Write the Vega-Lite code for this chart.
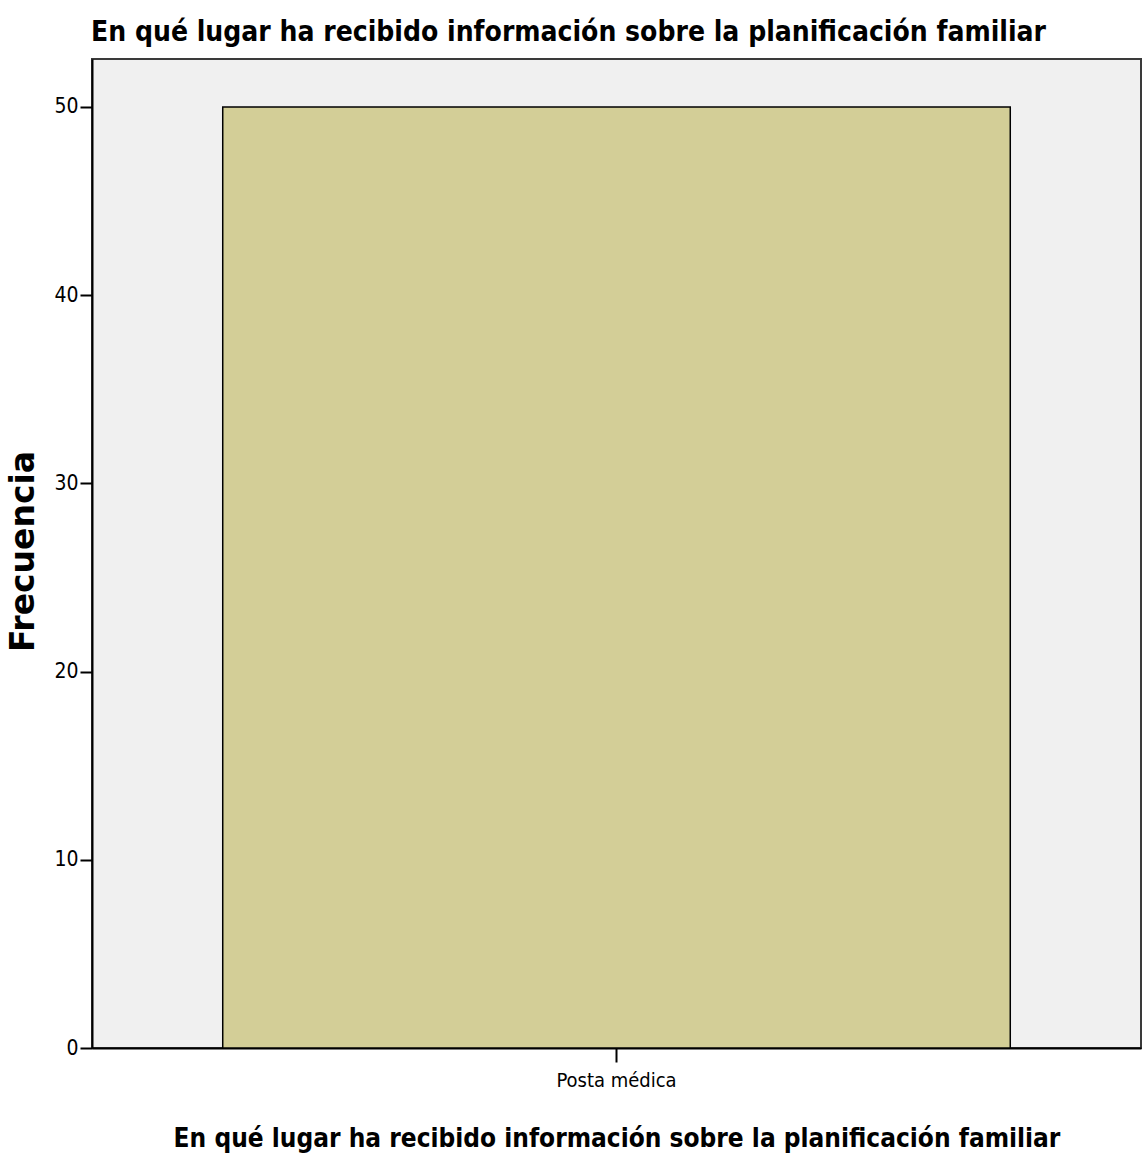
{
  "$schema": "https://vega.github.io/schema/vega-lite/v6.json",
  "autosize": {"type": "none"},
  "width": 1049,
  "height": 989,
  "padding": {"left": 92, "top": 59, "right": 4, "bottom": 116},
  "background": "white",
  "title": {
    "text": "En qué lugar ha recibido información sobre la planificación familiar",
    "font": "DejaVu Sans Condensed",
    "fontSize": 28,
    "fontWeight": "bold",
    "color": "black",
    "anchor": "middle",
    "baseline": "bottom",
    "offset": -16,
    "dx": -48
  },
  "data": {
    "values": [
      {"lugar": "Posta médica", "frecuencia": 50}
    ]
  },
  "mark": {"type": "bar", "color": "#d3ce97", "stroke": "black", "strokeWidth": 1.5},
  "encoding": {
    "x": {
      "field": "lugar",
      "type": "nominal",
      "title": "En qué lugar ha recibido información sobre la planificación familiar",
      "scale": {"paddingInner": 0, "paddingOuter": 0.166},
      "axis": {
        "labelAngle": 0,
        "labelFont": "DejaVu Sans Condensed",
        "labelFontSize": 20,
        "labelColor": "black",
        "labelPadding": 8,
        "tickSize": 14,
        "tickWidth": 2,
        "tickColor": "black",
        "domainColor": "black",
        "domainWidth": 2,
        "titleFont": "DejaVu Sans Condensed",
        "titleFontSize": 26,
        "titleFontWeight": "bold",
        "titleColor": "black",
        "titlePadding": 35
      }
    },
    "y": {
      "field": "frecuencia",
      "type": "quantitative",
      "title": "Frecuencia",
      "scale": {"domain": [0, 52.55], "nice": false, "zero": true},
      "axis": {
        "values": [0, 10, 20, 30, 40, 50],
        "grid": false,
        "labelFont": "DejaVu Sans Condensed",
        "labelFontSize": 21,
        "labelColor": "black",
        "labelPadding": 2,
        "tickSize": 12,
        "tickWidth": 2,
        "tickColor": "black",
        "domainColor": "black",
        "domainWidth": 2,
        "titleFont": "DejaVu Sans",
        "titleFontSize": 33,
        "titleFontWeight": "bold",
        "titleColor": "black",
        "titleX": -59,
        "titleY": 492,
        "titleAngle": -90,
        "titleAlign": "center",
        "titleBaseline": "alphabetic"
      }
    }
  },
  "config": {
    "view": {"fill": "#f0f0f0", "stroke": "#3a3a3a", "strokeWidth": 2}
  }
}
